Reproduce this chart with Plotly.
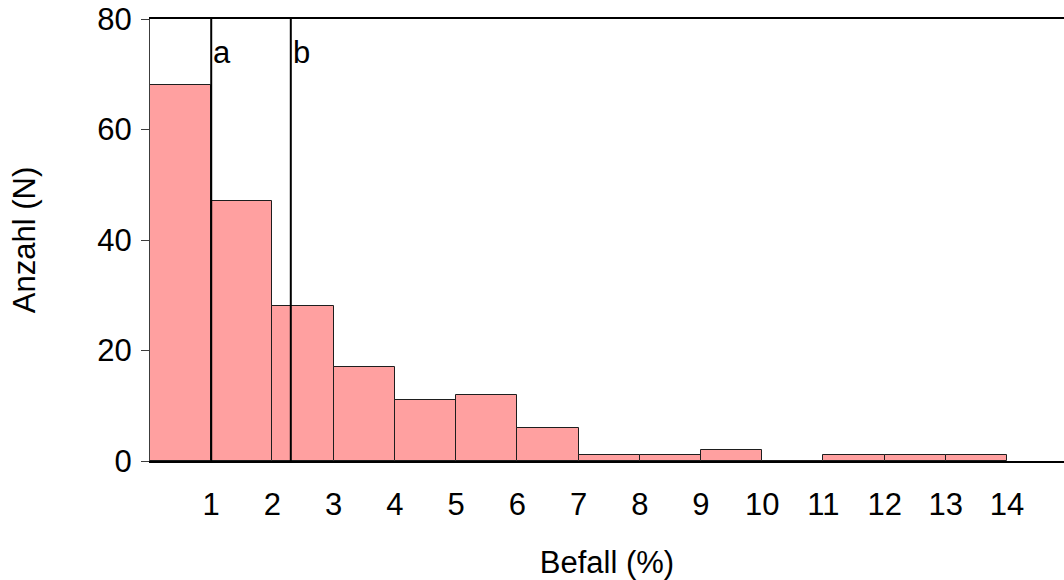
import plotly.graph_objects as go

# Data
bin_left = [0, 1, 2, 3, 4, 5, 6, 7, 8, 9, 10, 11, 12, 13]
counts = [68, 47, 28, 17, 11, 12, 6, 1, 1, 2, 0, 1, 1, 1]
marker_x = [1.0, 2.3]
marker_labels = ["a", "b"]
x_ticks = list(range(1, 15))
y_ticks = [0, 20, 40, 60, 80]

FONT = "Liberation Sans, Arial, Helvetica, sans-serif"
FS = 31

fig = go.Figure()
fig.add_trace(go.Bar(
    x=bin_left, y=counts, offset=0, width=1,
    marker=dict(color="rgb(255,160,160)", line=dict(color="rgb(30,30,30)", width=1)),
    showlegend=False, hoverinfo="skip",
))

for mx, lab in zip(marker_x, marker_labels):
    fig.add_shape(type="line", x0=mx, x1=mx, y0=0, y1=80, xref="x", yref="y",
                  line=dict(color="black", width=2))
    fig.add_annotation(x=mx, y=74, xref="x", yref="y", text=lab, showarrow=False,
                       xanchor="left", xshift=0, font=dict(size=FS, color="black", family=FONT))

fig.update_layout(
    width=1064, height=580,
    margin=dict(l=150, r=0, t=19, b=119),
    plot_bgcolor="white", paper_bgcolor="white",
    font=dict(family=FONT, size=FS, color="black"),
    bargap=0,
    xaxis=dict(
        range=[0, 14.93], tickvals=x_ticks, ticktext=[str(v) for v in x_ticks],
        showgrid=False, zeroline=False,
        showline=True, linecolor="black", linewidth=2, mirror=True,
        ticks="outside", ticklen=15, tickcolor="rgba(0,0,0,0)",
        title=dict(text="Befall (%)", standoff=32, font=dict(size=FS)),
    ),
    yaxis=dict(
        range=[0, 80], tickvals=y_ticks,
        showgrid=False, zeroline=False,
        showline=True, linecolor="rgb(60,60,60)", linewidth=1,
        ticks="outside", ticklen=8, tickcolor="rgb(60,60,60)",
        ticklabelstandoff=3,
        title=dict(text="Anzahl (N)", standoff=52, font=dict(size=FS)),
    ),
)

fig.write_html("out.html")
